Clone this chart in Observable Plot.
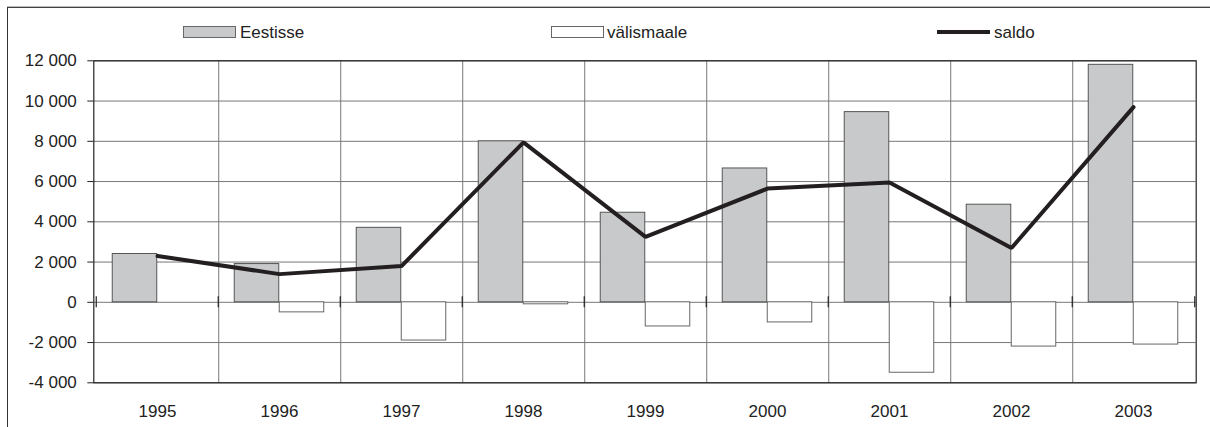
<!DOCTYPE html>
<html>
<head>
<meta charset="utf-8">
<script src="https://cdn.jsdelivr.net/npm/d3@7"></script>
<script src="https://cdn.jsdelivr.net/npm/@observablehq/plot@0.6"></script>
<style>
  html, body { margin: 0; padding: 0; background: #fff; overflow: hidden; }
  body { width: 1210px; height: 427px; position: relative;
         font-family: "Liberation Sans", Arial, sans-serif; }
  #frame { position: absolute; left: 7px; top: 7px; width: 1203px; height: 420px;
           border-top: 1px solid #444; border-left: 1px solid #333; box-sizing: border-box; }
  #frame-shadow { position: absolute; left: 7px; top: 6px; width: 1203px; height: 1px; background: #bbb; }
  .lg { position: absolute; font-size: 17px; color: #222; line-height: 1; }
  .sw { position: absolute; box-sizing: border-box; }
  #chart { position: absolute; left: 0; top: 40px; }
</style>
</head>
<body>
<div id="frame-shadow"></div>
<div id="frame"></div>
<div id="legend"></div>
<div id="chart"></div>
<script>
const years = ["1995","1996","1997","1998","1999","2000","2001","2002","2003"];
const eestisse = [2400, 1900, 3700, 8000, 4450, 6650, 9450, 4850, 11800];
const valismaale = [0, -500, -1900, -100, -1200, -1000, -3500, -2200, -2100];
const saldo = [2300, 1400, 1800, 7950, 3250, 5650, 5950, 2700, 9700];
const yTicks = [-4000, -2000, 0, 2000, 4000, 6000, 8000, 10000, 12000];
const seriesNames = ["Eestisse", "välismaale", "saldo"];

const rowsE = years.map((y, i) => ({year: y, value: eestisse[i]}));
const rowsV = years.map((y, i) => ({year: y, value: valismaale[i]}));
const rowsS = years.map((y, i) => ({year: y, value: saldo[i]}));

const fmt = d => (d < 0 ? "-" : "") + Math.abs(d).toLocaleString("en-US").replace(/,/g, " ");

const W = 1210, H = 387;
const mL = 93.3, mR = 14.3, mT = 20.3, mB = 44.7;
const band = (W - mL - mR) / years.length;
const half = band / 2;
const barW = 45;
const yDomain = [-4000, 12000];
// half-length of the category tick marks (5.5 px) expressed in value units
const tickHalf = 5.5 * (yDomain[1] - yDomain[0]) / (H - mT - mB);

const chart = Plot.plot({
  width: W,
  height: H,
  marginLeft: mL,
  marginRight: mR,
  marginTop: mT,
  marginBottom: mB,
  style: {fontFamily: "'Liberation Sans', Arial, sans-serif", fontSize: "17px", color: "#222", background: "transparent"},
  x: {type: "band", domain: years, padding: 0, label: null},
  y: {domain: yDomain, ticks: yTicks, label: null},
  marks: [
    Plot.gridY(yTicks, {stroke: "#777", strokeOpacity: 1, strokeWidth: 1}),
    Plot.ruleX(years.slice(0, -1), {x: d => d, dx: half, stroke: "#777", strokeWidth: 1}),
    Plot.barY(rowsE, {x: "year", y: "value", fill: "#c8c9cb", stroke: "#555", strokeWidth: 1,
      insetLeft: half - barW, insetRight: half}),
    Plot.barY(rowsV, {x: "year", y: "value", fill: "#fff", stroke: "#666", strokeWidth: 1,
      insetLeft: half, insetRight: half - barW}),
    // category-axis tick marks crossing the zero line at band boundaries
    Plot.ruleX(years, {x: d => d, dx: -half, y1: () => -tickHalf, y2: () => tickHalf, stroke: "#222", strokeWidth: 1.2}),
    Plot.ruleX(years.slice(-1), {x: d => d, dx: half, y1: () => -tickHalf, y2: () => tickHalf, stroke: "#222", strokeWidth: 1.2}),
    Plot.line(rowsS, {x: "year", y: "value", stroke: "#231f20", strokeWidth: 4, strokeLinejoin: "miter"}),
    Plot.frame({stroke: "#222", strokeWidth: 1.2}),
    Plot.axisY(yTicks, {tickSize: 6, tickPadding: 11, tickFormat: fmt, stroke: "#222", label: null, fontSize: 17}),
    Plot.axisX({tickSize: 0, tickPadding: 22, label: null, fontSize: 17})
  ]
});
document.getElementById("chart").appendChild(chart);

// legend
const lg = document.getElementById("legend");
function add(html) { lg.insertAdjacentHTML("beforeend", html); }
add(`<div class="sw" style="left:183px;top:26px;width:53px;height:12px;background:#c8c9cb;border:1px solid #666"></div>`);
add(`<div class="lg" style="left:240px;top:24px">${seriesNames[0]}</div>`);
add(`<div class="sw" style="left:551px;top:26px;width:53px;height:12px;background:#fff;border:1px solid #666"></div>`);
add(`<div class="lg" style="left:607px;top:24px">${seriesNames[1]}</div>`);
add(`<div class="sw" style="left:937px;top:30px;width:53px;height:4px;background:#231f20"></div>`);
add(`<div class="lg" style="left:994px;top:24px">${seriesNames[2]}</div>`);
</script>
</body>
</html>
